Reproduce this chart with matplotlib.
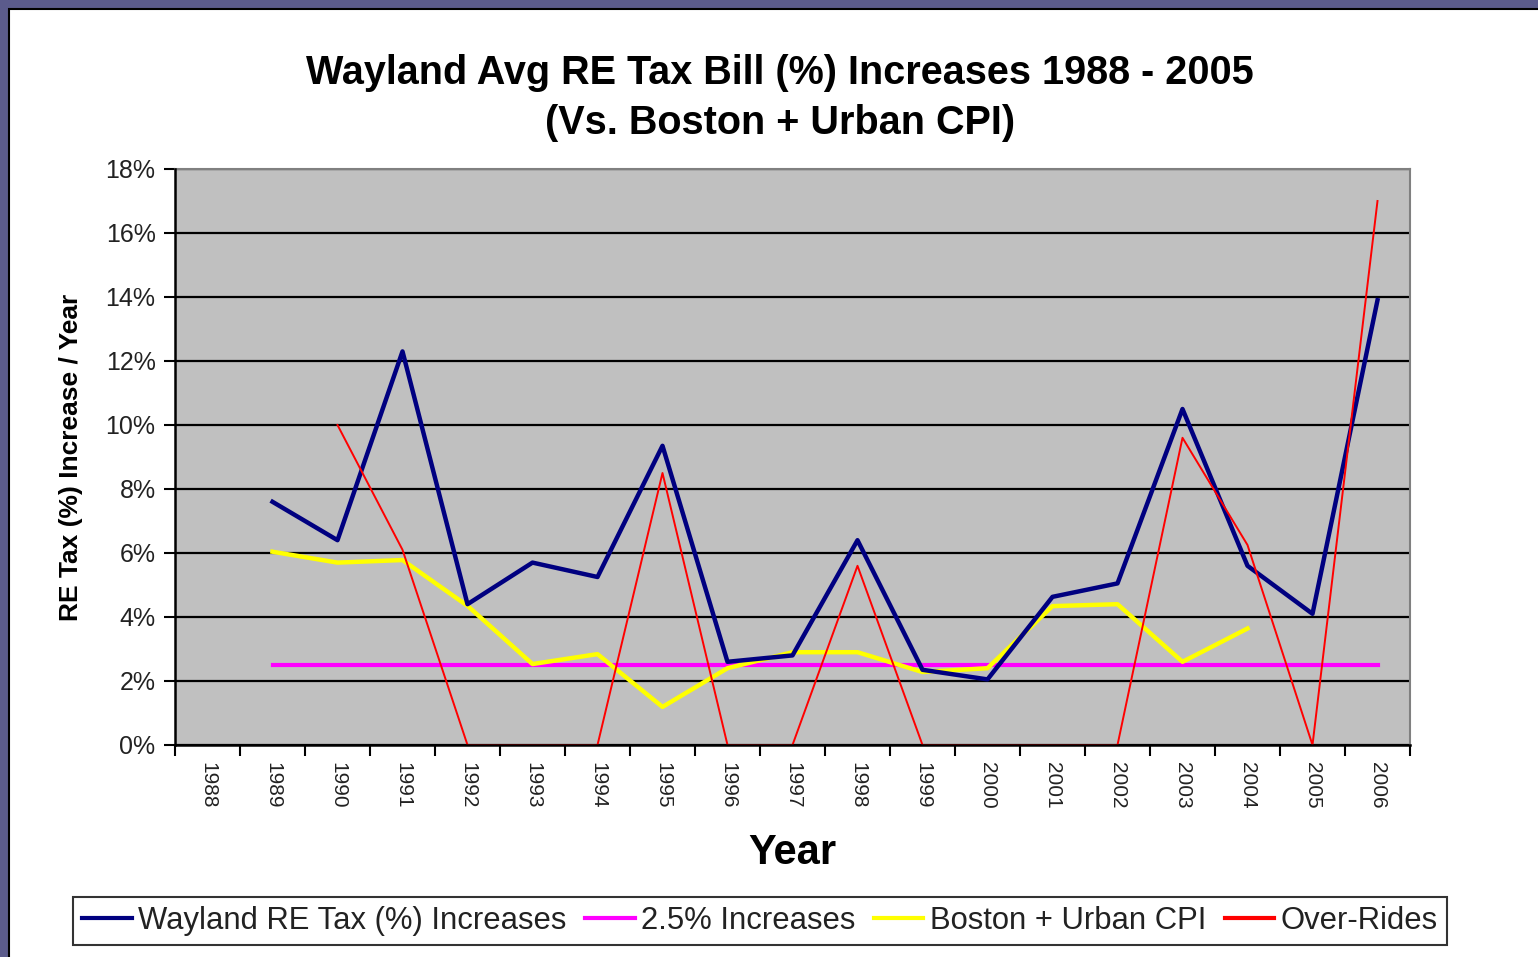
import matplotlib
matplotlib.use("Agg")
import matplotlib.pyplot as plt
import numpy as np
from matplotlib.patches import Rectangle
from matplotlib.ticker import FixedLocator, NullFormatter, FuncFormatter

years = [str(y) for y in range(1988, 2007)]
nan = np.nan
wayland = [nan, 7.6, 6.4, 12.3, 4.4, 5.7, 5.25, 9.35, 2.6, 2.8, 6.4, 2.35, 2.05, 4.63, 5.05, 10.5, 5.6, 4.1, 13.9]
limit_25 = [nan, 2.5, 2.5, 2.5, 2.5, 2.5, 2.5, 2.5, 2.5, 2.5, 2.5, 2.5, 2.5, 2.5, 2.5, 2.5, 2.5, 2.5, 2.5]
boston_cpi = [nan, 6.04, 5.7, 5.78, 4.35, 2.53, 2.84, 1.19, 2.4, 2.9, 2.9, 2.28, 2.4, 4.34, 4.4, 2.6, 3.64, nan, nan]
overrides = [nan, nan, 10.0, 6.1, 0.0, 0.0, 0.0, 8.5, 0.0, 0.0, 5.6, 0.0, 0.0, 0.0, 0.0, 9.6, 6.25, 0.0, 17.0]

series_names = ["Wayland RE Tax (%) Increases", "2.5% Increases", "Boston + Urban CPI", "Over-Rides"]
yticks = [0, 2, 4, 6, 8, 10, 12, 14, 16, 18]

W, H = 1538, 957
fig = plt.figure(figsize=(W / 100, H / 100), dpi=100)
fig.patch.set_facecolor("#5B5B8C")
# white chart area with black edge
fig.patches.append(Rectangle((9 / W, -0.01), 1.02 - 9 / W, 1.01 - 9 / H, transform=fig.transFigure,
                             facecolor="white", edgecolor="black", linewidth=1.5, zorder=-5))

ax = fig.add_axes([175 / W, 1 - 745 / H, (1410 - 175) / W, (745 - 169) / H])
ax.set_zorder(2)
ax.set_facecolor("#C0C0C0")
x = np.arange(len(years))
ax.plot(x, wayland, color="#000080", lw=3.2, label=series_names[0], zorder=4)
ax.plot(x, limit_25, color="#FF00FF", lw=3.0, label=series_names[1], zorder=3)
ax.plot(x, boston_cpi, color="#FFFF00", lw=3.2, label=series_names[2], zorder=3.5)
ax.plot(x, overrides, color="#FF0000", lw=1.4, label=series_names[3], zorder=5)

ax.set_xlim(-0.5, len(years) - 0.5)
ax.set_ylim(0, 18)
ax.yaxis.set_major_locator(FixedLocator(yticks))
ax.yaxis.set_major_formatter(FuncFormatter(lambda v, p: f"{int(v)}%"))
ax.grid(axis="y", color="black", lw=1.6, zorder=1)
ax.set_axisbelow(True)

# x: labels at centers, ticks at boundaries
ax.set_xticks(x)
ax.set_xticklabels(years, rotation=270, fontsize=15, family="Liberation Sans")
ax.tick_params(axis="x", which="major", length=0, pad=12)
ax.set_xticks(np.arange(len(years) + 1) - 0.5, minor=True)
ax.xaxis.set_minor_formatter(NullFormatter())
ax.tick_params(axis="x", which="minor", length=8, width=1.5, direction="out")
ax.tick_params(axis="y", length=8, width=1.5, direction="out", labelsize=18, pad=6)
for lab in ax.get_yticklabels():
    lab.set_family("Liberation Sans")
    lab.set_color("#222222")
for lab in ax.get_xticklabels():
    lab.set_color("#222222")

for side in ["left", "bottom"]:
    ax.spines[side].set_linewidth(1.8)
    ax.spines[side].set_zorder(6)
for side in ["top", "right"]:
    ax.spines[side].set_color("#808080")
    ax.spines[side].set_linewidth(1.5)

ax.set_ylabel("RE Tax (%) Increase / Year", fontsize=19, fontweight="bold", family="Liberation Sans", labelpad=16)
ax.set_xlabel("Year", fontsize=30, fontweight="bold", family="Liberation Sans", labelpad=18)

fig.text(780 / W, 1 - 98 / H, "Wayland Avg RE Tax Bill (%) Increases 1988 - 2005\n(Vs. Boston + Urban CPI)",
         ha="center", va="center", fontsize=28.5, fontweight="bold", family="Liberation Sans", linespacing=1.4)

leg = fig.legend(loc="center", bbox_to_anchor=(760 / W, 1 - 921 / H), ncol=4, frameon=True, fancybox=False,
                 edgecolor="black", handlelength=1.6, handletextpad=0.2, columnspacing=0.6,
                 borderpad=0.3, prop={"family": "Liberation Sans", "size": 22.3})
leg.get_frame().set_linewidth(1.5)
for h in leg.get_lines():
    h.set_linewidth(3)
for t in leg.get_texts():
    t.set_color("#222222")

fig.savefig("out.png", dpi=100, facecolor=fig.get_facecolor())
